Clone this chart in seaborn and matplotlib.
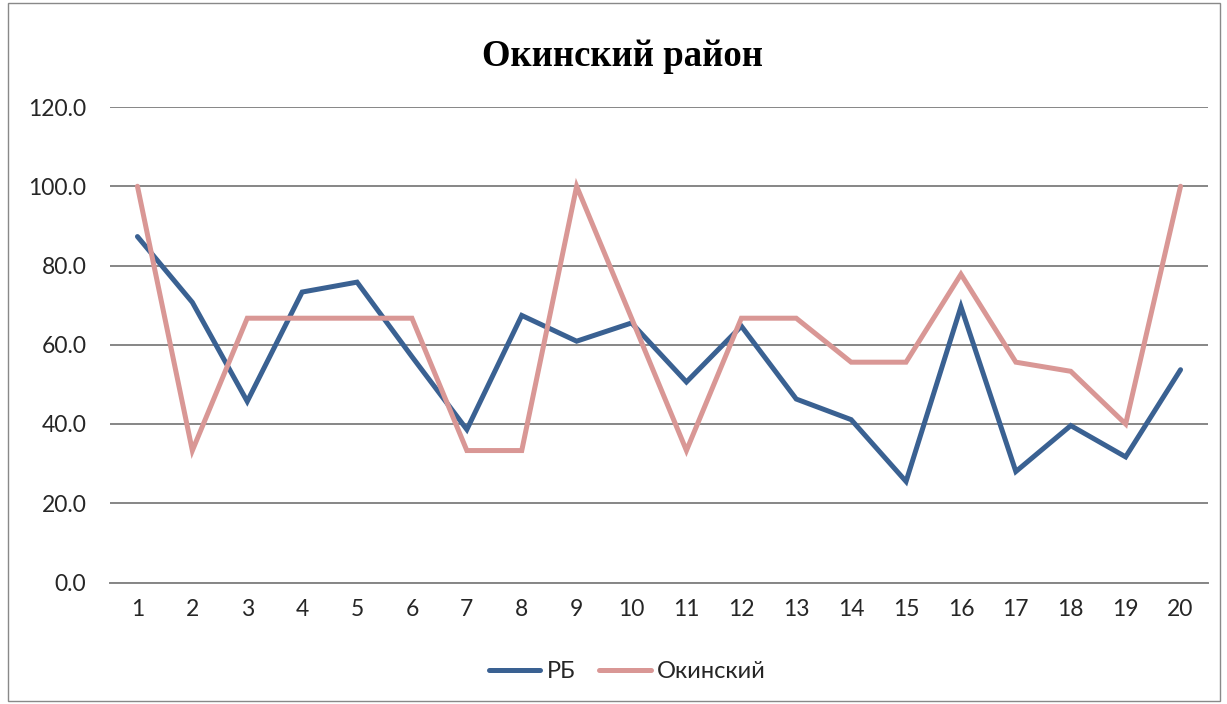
import matplotlib
matplotlib.use("Agg")
import matplotlib.pyplot as plt
import seaborn as sns
import pandas as pd
from matplotlib.patches import Rectangle
from matplotlib.lines import Line2D

categories = list(range(1, 21))
rb = [87.3, 70.7, 45.7, 73.3, 75.8, 57.0, 38.6, 67.4, 60.9, 65.5,
      50.6, 64.7, 46.3, 41.1, 25.5, 69.6, 28.0, 39.6, 31.7, 53.7]
okinsky = [100.0, 33.3, 66.7, 66.7, 66.7, 66.7, 33.3, 33.3, 100.0, 66.7,
           33.3, 66.7, 66.7, 55.6, 55.6, 77.8, 55.6, 53.3, 40.0, 100.0]
series_names = ["РБ", "Окинский"]
colors = ["#3A6192", "#D99795"]

df = pd.DataFrame({
    "x": categories * 2,
    "value": rb + okinsky,
    "series": [series_names[0]] * 20 + [series_names[1]] * 20,
})

sns.set_theme(style="white")
plt.rcParams['font.family'] = ['Lato', 'DejaVu Sans']

fig = plt.figure(figsize=(12.27, 7.04), dpi=100)
ax = fig.add_axes([110 / 1227, 1 - 582.5 / 704, 1098 / 1227, 475.5 / 704])

sns.lineplot(data=df, x="x", y="value", hue="series", palette=colors,
             hue_order=series_names, linewidth=3.6, ax=ax, legend=False,
             solid_capstyle="round", solid_joinstyle="miter")

ax.set_xlim(0.5, 20.5)
ax.set_ylim(0, 120)
ax.set_yticks(range(0, 121, 20))
ax.set_yticklabels([f"{v:.1f}" for v in range(0, 121, 20)], fontsize=16.5)
ax.set_xticks(categories)
ax.set_xticklabels([str(c) for c in categories], fontsize=16.5)
ax.tick_params(axis="y", length=0, pad=17)
ax.tick_params(axis="x", length=0, pad=12)
ax.yaxis.grid(True, color="#868686", linewidth=1.4)
ax.set_axisbelow(True)
for s in ["top", "right", "left"]:
    ax.spines[s].set_visible(False)
ax.spines["bottom"].set_color("#868686")
ax.spines["bottom"].set_linewidth(1.4)
ax.set_xlabel("")
ax.set_ylabel("")

fig.text(622.5 / 1227, 1 - 56 / 704, "Окинский район", ha="center", va="center",
         fontsize=26.5, fontweight="bold", family="Liberation Serif", color="black")

handles = [Line2D([0], [0], color=c, linewidth=3.6, solid_capstyle="round") for c in colors]
fig.legend(handles, series_names, loc="center", bbox_to_anchor=(627 / 1227, 1 - 672 / 704),
           ncol=2, frameon=False, fontsize=17, handlelength=2.2, handletextpad=0.25,
           columnspacing=1.0)

fig.add_artist(Rectangle((8 / 1227, 1 - 701 / 704), 1212 / 1227, 698 / 704,
                         transform=fig.transFigure, fill=False,
                         edgecolor="#898989", linewidth=1.0))

fig.savefig("out.png", dpi=100)
